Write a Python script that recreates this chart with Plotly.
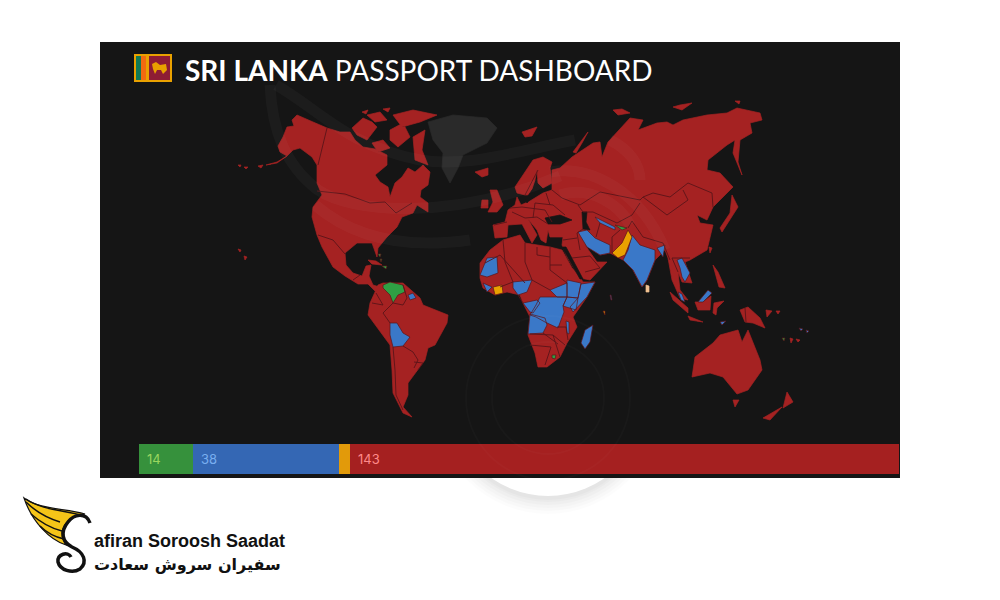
import plotly.graph_objects as go

# stacked bar at the bottom of the dashboard
bar_names = ["Visa free", "Visa on arrival", "eTA", "Visa required"]
bar_values = [14, 38, 3, 143]
bar_labels = ["14", "38", "", "143"]
bar_colors = ["#36913c", "#3467b4", "#e29a0a", "#a52020"]
bar_text_colors = ["#9ad65f", "#79aef0", "#ffffff", "#ff8a8a"]

RED = "#a52222"
BLUE = "#3a78c8"
ORANGE = "#e9a100"
GREEN = "#2fa044"
SEA = "#151515"
BORDER = "#5a1418"

# map outlines, traced in map units off the picture
red_land = [
    # north america
    [(266,165),(277,162),(287,156),(280,152),(278,146),(283,137),(287,127),(294,126),(292,120),(297,115),(313,122),(327,128),(340,132),(350,132),(355,140),(363,147),(375,149),(387,155),(387,165),(375,175),(380,182),(388,187),(390,197),(395,183),(402,177),(408,168),(415,172),(423,165),(430,172),(428,185),(421,190),(420,197),(428,203),(428,212),(417,205),(413,213),(402,217),(397,227),(387,237),(378,248),(377,257),(372,243),(357,243),(345,253),(346,265),(353,273),(362,276),(366,266),(371,265),(369,276),(373,285),(383,288),(376,292),(368,284),(358,284),(345,276),(333,267),(322,247),(317,235),(312,217),(313,207),(322,195),(317,183),(317,165),(312,157),(300,148),(293,150),(287,156),(277,163)],
    [(352,128),(363,118),(372,122),(377,127),(367,140),(357,135)],
    [(367,115),(380,112),(387,120),(375,122)],
    [(393,115),(413,110),(437,115),(420,122),(402,127)],
    [(390,130),(403,123),(410,137),(398,147),(390,140)],
    [(413,137),(425,130),(422,150),(428,165),(415,160)],
    [(383,140),(390,148),(378,152),(372,143)],
    [(362,112),(368,110),(366,114)],
    [(383,109),(390,108),(388,112)],
    [(402,118),(408,120),(404,122)],
    [(475,172),(488,168),(488,175),(482,177)],
    [(368,260),(376,261),(382,265),(372,264)],
    [(238,249),(241,250),(240,252)],
    [(244,256),(247,257),(245,260)],
    [(238,165),(241,165),(240,167)],
    [(244,167),(248,167),(246,169)],
    [(258,166),(263,165),(261,168)],
    # south america
    [(375,292),(378,285),(383,283),(403,283),(420,298),(423,305),(448,315),(447,323),(435,345),(428,348),(425,360),(418,370),(408,383),(408,395),(403,407),(412,417),(403,413),(393,393),(392,370),(390,345),(368,315),(370,303)],
    # africa
    [(480,263),(490,250),(503,240),(520,235),(525,243),(550,247),(562,250),(572,268),(580,277),(583,282),(595,282),(587,297),(573,317),(577,327),(567,343),(560,357),(547,367),(538,367),(535,353),(528,335),(530,317),(523,303),(520,295),(507,292),(495,295),(483,288),(480,278)],
    # eurasia
    [(493,225),(505,222),(508,210),(515,205),(517,197),(521,205),(530,201),(543,193),(552,190),(552,170),(560,168),(572,157),(593,143),(600,142),(602,157),(608,142),(630,118),(643,120),(638,130),(657,123),(667,122),(673,125),(683,120),(707,115),(727,113),(737,108),(760,113),(762,120),(750,123),(752,133),(740,140),(738,162),(742,175),(733,153),(735,140),(727,145),(708,160),(707,170),(720,173),(733,187),(720,200),(713,207),(707,220),(697,215),(700,223),(713,225),(707,250),(690,260),(685,262),(690,277),(692,283),(682,282),(678,272),(680,290),(688,300),(680,298),(672,280),(668,258),(665,250),(655,260),(647,280),(642,287),(633,270),(623,260),(610,253),(600,255),(585,245),(597,262),(607,262),(590,280),(580,278),(567,257),(562,245),(563,237),(550,237),(548,230),(546,243),(541,240),(537,230),(528,219),(537,235),(532,243),(522,224),(508,225),(507,237),(495,238)],
    # scandinavia, britain
    [(515,187),(533,160),(543,157),(552,162),(550,168),(552,183),(543,188),(538,183),(537,170),(535,180),(530,195),(525,195),(517,193)],
    [(490,190),(497,190),(503,205),(497,212),(488,212),(493,202)],
    [(482,200),(488,200),(488,208),(481,208)],
    [(522,132),(537,127),(532,136),(525,137)],
    [(573,152),(588,132),(582,143),(576,153)],
    [(613,110),(622,109),(630,113),(618,115)],
    [(673,107),(680,105),(692,103),(682,110)],
    [(735,101),(740,101),(739,104)],
    # japan, pacific, australia
    [(718,173),(727,190),(724,192),(717,178)],
    [(732,195),(738,207),(722,232),(720,228),(730,213)],
    [(709,247),(712,248),(710,253)],
    [(670,292),(688,308),(688,313),(673,300)],
    [(688,316),(703,322),(690,320)],
    [(695,302),(703,302),(711,296),(710,310),(698,310)],
    [(714,303),(724,301),(717,308),(716,315),(713,313)],
    [(713,265),(718,272),(725,288),(719,287)],
    [(740,310),(748,307),(760,318),(765,328),(753,323),(745,322)],
    [(766,310),(772,311),(767,317)],
    [(776,311),(780,311),(778,314)],
    [(790,338),(793,339),(791,343)],
    [(796,339),(800,340),(798,342)],
    [(692,377),(695,357),(713,343),(720,335),(738,330),(742,342),(748,330),(760,360),(762,370),(748,390),(737,394),(728,383),(723,377),(710,373)],
    [(733,400),(739,400),(735,407)],
    [(787,392),(790,397),(793,402),(783,408)],
    [(782,407),(770,420),(763,418)],
]
blue_land = [
    [(390,323),(397,323),(403,333),(410,337),(403,346),(393,347),(390,335)],
    [(408,295),(413,293),(416,298),(410,300)],
    [(480,275),(487,258),(497,257),(498,273),(487,277)],
    [(483,283),(492,287),(487,292)],
    [(513,282),(532,280),(527,292),(518,295),(513,288)],
    [(550,290),(567,283),(567,297),(557,297)],
    [(567,280),(581,283),(578,298),(567,297)],
    [(595,282),(587,297),(573,312),(570,307),(578,298),(581,284)],
    [(567,297),(578,298),(576,310),(563,306)],
    [(540,297),(557,297),(567,297),(563,306),(564,312),(558,328),(545,322),(536,317),(530,315),(536,305)],
    [(530,314),(545,318),(547,325),(543,333),(528,334)],
    [(523,303),(537,300),(540,303),(533,313),(530,312)],
    [(566,321),(569,322),(569,334),(567,333)],
    [(593,325),(590,342),(585,349),(581,343),(585,330)],
    [(578,232),(587,230),(595,238),(610,245),(610,253),(600,255),(587,247)],
    [(595,217),(615,227),(615,230),(600,223)],
    [(632,235),(640,245),(655,250),(655,260),(647,280),(642,287),(633,270),(623,260),(628,250)],
    [(657,248),(665,245),(663,257)],
    [(677,260),(682,258),(690,273),(685,282),(682,277),(680,268)],
    [(678,292),(682,294),(685,302),(681,300)],
    [(698,302),(708,290),(712,293),(703,302)],
    [(720,322),(726,321),(722,325)],
    [(799,328),(803,329),(801,331)],
    [(806,330),(809,331),(807,333)],
    [(610,295),(611,295),(612,300),(611,300)],
]
orange_land = [
    [(628,230),(632,237),(625,255),(618,258),(612,253),(622,243)],
    [(493,287),(502,285),(503,293),(495,295)],
    [(603,311),(605,311),(605,315)],
]
green_land = [
    [(383,285),(390,282),(403,285),(405,292),(398,295),(393,303),(390,295),(383,288)],
    [(615,225),(627,228),(622,230)],
    [(552,355),(556,355),(555,359),(552,358)],
    [(378,254),(381,254),(380,257)],
    [(380,259),(382,259),(381,262)],
    [(382,266),(387,266),(386,269)],
    [(782,338),(785,338),(784,341)],
]
tan_land = [[(646,285),(649,286),(649,292),(646,292)]]
grey_land = [[(428,122),(453,115),(487,118),(497,128),(487,143),(463,155),(458,168),(450,183),(442,168),(443,153),(433,140)]]
seas = [
    [(545,218),(560,215),(572,220),(560,224),(548,224)],
    [(582,212),(587,212),(586,222),(590,230),(583,229)],
    [(562,247),(566,247),(583,279),(580,279)],
    [(525,200),(532,190),(538,185),(535,193),(527,203)],
]
borders = [
    [(327,128),(318,165)],
    [(317,191),(345,194),(370,203),(385,202),(396,213),(412,203)],
    [(318,235),(333,240),(345,254)],
    [(353,280),(360,275)],
    [(376,293),(383,305),(372,303)],
    [(383,313),(393,303)],
    [(383,313),(390,323)],
    [(393,347),(395,370),(396,395),(403,410)],
    [(403,346),(413,352),(418,360),(414,368)],
    [(414,362),(423,363),(418,370)],
    [(403,285),(407,298),(403,305),(393,303)],
    [(485,263),(500,255),(525,283)],
    [(503,240),(505,262),(513,282)],
    [(525,243),(525,262),(532,280)],
    [(550,247),(550,270),(567,283)],
    [(532,280),(550,290)],
    [(537,247),(537,255),(550,257)],
    [(562,265),(550,265)],
    [(500,287),(513,282)],
    [(518,295),(523,303)],
    [(530,334),(553,335),(560,357)],
    [(530,345),(551,347),(545,365)],
    [(553,335),(565,345)],
    [(557,327),(566,327),(568,340)],
    [(543,333),(558,344)],
    [(552,190),(562,198),(580,205),(600,192),(640,200),(643,197),(653,193),(670,197),(688,183),(712,193),(713,207)],
    [(643,197),(667,215),(688,200),(683,190)],
    [(578,205),(583,212),(593,212),(617,223),(632,215),(640,203)],
    [(632,221),(643,237),(663,243),(670,260)],
    [(628,228),(632,221)],
    [(577,233),(583,229)],
    [(577,233),(580,250)],
    [(563,240),(577,238)],
    [(572,258),(590,256),(600,268)],
    [(585,272),(600,268)],
    [(535,203),(553,205),(565,215)],
    [(522,207),(545,210),(552,222)],
    [(512,212),(525,218),(537,217),(548,224)],
    [(535,203),(533,218)],
    [(546,193),(550,205)],
    [(507,222),(494,225)],
    [(510,208),(522,207)],
    [(525,195),(538,170)],
    [(620,230),(612,237),(612,253)],
    [(600,223),(596,237)],
    [(672,258),(678,272)],
    [(672,258),(690,258)],
    [(745,308),(746,322)],
]
# swooshes of the faint watermark behind the map
swooshes = [
    "M 270 85 C 272 130 285 165 318 190 C 350 212 450 222 560 176",
    "M 276 85 C 320 110 345 145 420 160 C 470 168 520 150 575 140",
    "M 315 205 C 350 235 400 250 470 240",
    "M 610 140 C 630 150 640 165 640 180",
    "M 550 172 C 590 165 640 190 665 250",
    "M 560 195 C 590 185 620 205 630 225",
]
wing_stripes = [
    "M 26 502 C 34 510 44 517 60 522",
    "M 31 514 C 40 522 50 528 62 531",
    "M 40 526 C 46 532 55 537 64 539",
    "M 26 499 C 42 510 62 510 85 516",
]


def outline(polys):
    xs, ys = [], []
    for poly in polys:
        xs += [p[0] for p in poly] + [poly[0][0], None]
        ys += [p[1] for p in poly] + [poly[0][1], None]
    return xs, ys


def add_land(fig, polys, color, edge=BORDER):
    xs, ys = outline(polys)
    fig.add_trace(go.Scatter(x=xs, y=ys, mode="lines", fill="toself", fillcolor=color,
                             line=dict(color=edge, width=0.7), hoverinfo="skip"))


fig = go.Figure()
add_land(fig, grey_land, "#2a2a2a", "#2a2a2a")
add_land(fig, red_land, RED, RED)
add_land(fig, seas, SEA, SEA)
add_land(fig, blue_land, BLUE)
add_land(fig, orange_land, ORANGE)
add_land(fig, green_land, GREEN)
add_land(fig, tan_land, "#f0c090", "#f0c090")

bx, by = [], []
for line in borders:
    bx += [p[0] for p in line] + [None]
    by += [p[1] for p in line] + [None]
fig.add_trace(go.Scatter(x=bx, y=by, mode="lines", line=dict(color=BORDER, width=0.9), hoverinfo="skip"))

for name, value, color in zip(bar_names, bar_values, bar_colors):
    fig.add_trace(go.Bar(x=[value], y=[0], name=name, orientation="h", marker=dict(color=color, line_width=0),
                         xaxis="x2", yaxis="y2", hoverinfo="skip"))

shapes = []
# soft shadow and white disc under the panel
for r, alpha in [(114, .012), (111, .014), (108, .016), (105, .018), (102, .02), (100, .02)]:
    shapes.append(dict(type="circle", layer="below", xref="x", yref="y", x0=548-r, x1=548+r, y0=400-r, y1=400+r,
                       fillcolor=f"rgba(0,0,0,{alpha})", line_width=0))
shapes.append(dict(type="circle", layer="below", xref="x", yref="y", x0=450, x1=646, y0=300, y1=496,
                   fillcolor="#ffffff", line_width=0))
shapes.append(dict(type="rect", layer="below", xref="x", yref="y", x0=100, x1=900, y0=42, y1=478,
                   fillcolor=SEA, line_width=0))
# watermark
for d in swooshes:
    shapes.append(dict(type="path", path=d, xref="x", yref="y", line=dict(color="rgba(255,255,255,0.03)", width=11)))
for r, y1 in [(82, 480), (56, 454)]:
    shapes.append(dict(type="circle", xref="x", yref="y", x0=548-r, x1=548+r, y0=y1-2*r, y1=y1,
                       line=dict(color="rgba(255,255,255,0.02)", width=2)))
# flag
shapes += [
    dict(type="rect", xref="x", yref="y", x0=134, x1=172, y0=54, y1=82, fillcolor="#e9a100", line_width=0),
    dict(type="rect", xref="x", yref="y", x0=136, x1=141, y0=56, y1=80, fillcolor="#0f7a55", line_width=0),
    dict(type="rect", xref="x", yref="y", x0=141, x1=146, y0=56, y1=80, fillcolor="#f26a10", line_width=0),
    dict(type="rect", xref="x", yref="y", x0=149, x1=170, y0=56, y1=80, fillcolor="#8e1c34", line_width=0),
    dict(type="path", path="M 152 64 L 156 62 L 160 65 L 166 64 L 167 70 L 163 74 L 161 70 L 157 70 L 155 74 L 153 69 Z",
         xref="x", yref="y", fillcolor="#e9a100", line_width=0),
]
# logo
shapes += [
    dict(type="path", path="M 24 498 C 40 510 65 508 85 514 C 72 516 64 522 62 532 C 62 538 63 541 66 545 C 50 540 32 522 24 498 Z",
         xref="x", yref="y", fillcolor="#f5c518", line=dict(color="#111111", width=1.2)),
    dict(type="path", path="M 90 523 C 86 512 74 514 68 522 C 60 532 62 542 72 547 C 84 552 88 562 80 569 C 72 574 60 570 58 562 C 57 554 68 551 71 557",
         xref="x", yref="y", line=dict(color="#111111", width=3.5)),
]
for d in wing_stripes:
    shapes.append(dict(type="path", path=d, xref="x", yref="y", line=dict(color="#111111", width=1.5)))

annotations = [
    dict(x=183, y=70, xref="x", yref="y", xanchor="left", yanchor="middle", showarrow=False,
         text="<b>SRI LANKA</b> PASSPORT DASHBOARD", font=dict(family="Lato", size=28, color="#ffffff")),
    dict(x=92, y=541, xref="x", yref="y", xanchor="left", yanchor="middle", showarrow=False,
         text="<b>afiran Soroosh Saadat</b>", font=dict(family="Liberation Sans", size=18, color="#111111")),
    dict(x=283, y=564, xref="x", yref="y", xanchor="right", yanchor="middle", showarrow=False,
         text="<b>سفیران سروش سعادت</b>", font=dict(family="DejaVu Sans", size=16, color="#111111")),
]
start = 0
for label, value, color in zip(bar_labels, bar_values, bar_text_colors):
    if label:
        annotations.append(dict(x=start, y=0, xref="x2", yref="y2", xanchor="left", xshift=6, showarrow=False,
                                text=label, font=dict(family="Inter", size=13, color=color)))
    start += value

fig.update_layout(
    width=1000, height=600, margin=dict(l=0, r=0, t=0, b=0),
    paper_bgcolor="#ffffff", plot_bgcolor="rgba(0,0,0,0)", showlegend=False,
    barmode="stack", bargap=0,
    xaxis=dict(domain=[0, 1], range=[0, 1000], visible=False, fixedrange=True),
    yaxis=dict(domain=[0, 1], range=[600, 0], visible=False, fixedrange=True),
    xaxis2=dict(domain=[0.139, 0.899], range=[0, sum(bar_values)], visible=False, anchor="y2", fixedrange=True),
    yaxis2=dict(domain=[0.21, 0.26], range=[-0.5, 0.5], visible=False, anchor="x2", fixedrange=True),
    shapes=shapes, annotations=annotations,
)
fig.write_html("out.html", config={"displayModeBar": False}, post_script="document.body.style.margin = '0';")
